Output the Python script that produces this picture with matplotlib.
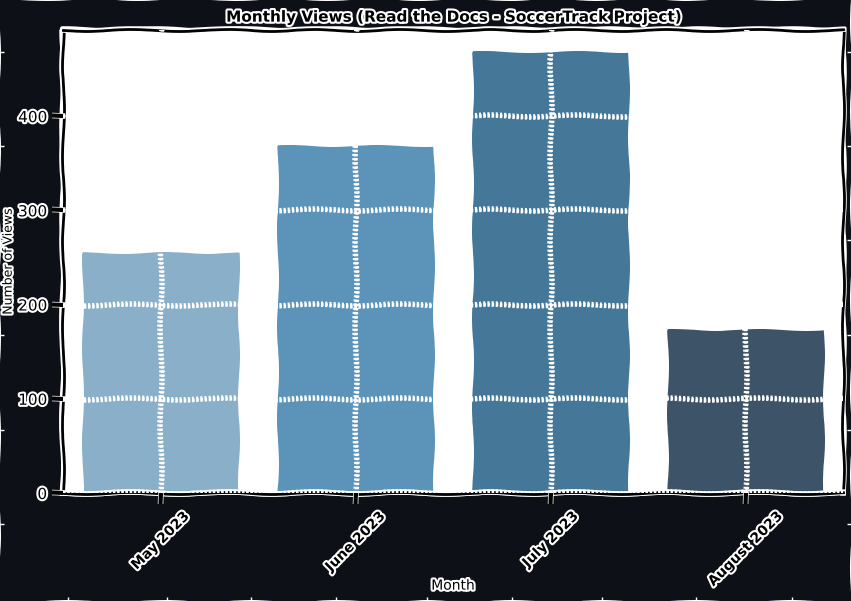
import matplotlib
matplotlib.use("Agg")
import matplotlib.pyplot as plt
import matplotlib.patheffects as pe
import numpy as np

months = ["May 2023", "June 2023", "July 2023", "August 2023"]
views = [255, 368, 468, 173]
bar_colors = ["#8aafc8", "#5b93b9", "#457799", "#3d5368"]

BG = "#0d1117"

with plt.xkcd():
    plt.rcParams['font.family'] = ['DejaVu Sans']
    fig = plt.figure(figsize=(8.51, 6.01), dpi=100, facecolor=BG)

    # faint background frame with tiny ticks along the figure edges
    bg = fig.add_axes([0, 0, 1, 1], zorder=-5)
    bg.set_facecolor(BG)
    for s in bg.spines.values():
        s.set_visible(False)
    bg.set_xlim(0, 851)
    bg.set_ylim(0, 601)
    bg.set_xticks([68, 167, 251, 336, 427, 512, 602, 696, 792])
    bg.set_yticks([77, 171, 266, 361, 455, 549])
    bg.tick_params(direction="in", length=3, width=1, colors="white",
                   labelleft=False, labelbottom=False, right=True)
    for t in bg.xaxis.get_major_ticks() + bg.yaxis.get_major_ticks():
        t.tick1line.set_path_effects([])
        t.tick2line.set_path_effects([])

    ax = fig.add_axes([63 / 851, 1 - 493 / 601, 780 / 851, 463 / 601])
    ax.set_facecolor("white")
    x = np.arange(len(months))
    ax.bar(x, views, width=0.8, color=bar_colors, zorder=1)
    ax.set_xlim(-0.5, len(months) - 0.5)
    ax.set_ylim(0, max(views) * 1.05)
    ax.set_xticks(x)
    ax.set_xticklabels(months, rotation=45, fontsize=10, fontweight="bold")
    ax.set_yticks([0, 100, 200, 300, 400])
    for lab in ax.get_yticklabels():
        lab.set_fontsize(11)
    ax.grid(True, color="white", linestyle=(0, (0.6, 0.6)), linewidth=2.5, zorder=1.5)
    ax.set_axisbelow(False)
    for s in ax.spines.values():
        s.set_visible(True)
        s.set_color("black")
        s.set_linewidth(2)

    ax.set_title("Monthly Views (Read the Docs - SoccerTrack Project)",
                 fontsize=11, pad=6, fontweight="bold")
    ax.set_xlabel("Month", fontsize=10)
    ax.xaxis.set_label_coords(0.5, -0.185)
    ax.set_ylabel("Number of Views", fontsize=9)
    ax.yaxis.set_label_coords(-0.062, 0.5)

    stroke = [pe.withStroke(linewidth=3, foreground="white")]
    texts = [ax.title, ax.xaxis.label, ax.yaxis.label] + ax.get_xticklabels() + ax.get_yticklabels()
    for t in texts:
        t.set_color("black")
        t.set_path_effects(stroke)

    fig.savefig("out.png", dpi=100, facecolor=BG)
